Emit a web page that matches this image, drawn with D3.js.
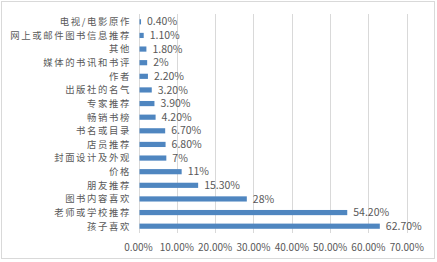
<!DOCTYPE html>
<html>
<head>
<meta charset="utf-8">
<script src="https://cdn.jsdelivr.net/npm/d3@7"></script>
<style>
  body { margin: 0; background: #fff; }
  svg text { font-family: "Noto Sans CJK SC", "DejaVu Sans", sans-serif; fill: #595959; }
</style>
</head>
<body>
<svg id="chart" width="437" height="262"></svg>
<script>
// data, top to bottom as drawn
const categories = [
  "电视/电影原作", "网上或邮件图书信息推荐", "其他", "媒体的书讯和书评", "作者",
  "出版社的名气", "专家推荐", "畅销书榜", "书名或目录", "店员推荐",
  "封面设计及外观", "价格", "朋友推荐", "图书内容喜欢", "老师或学校推荐", "孩子喜欢"
];
const values = [0.4, 1.1, 1.8, 2, 2.2, 3.2, 3.9, 4.2, 6.7, 6.8, 7, 11, 15.3, 28, 54.2, 62.7];
const valueLabels = ["0.40%", "1.10%", "1.80%", "2%", "2.20%", "3.20%", "3.90%", "4.20%",
  "6.70%", "6.80%", "7%", "11%", "15.30%", "28%", "54.20%", "62.70%"];
const ticks = [0, 10, 20, 30, 40, 50, 60, 70];

const svg = d3.select("#chart");
const margin = { left: 138.5, right: 30, top: 15, bottom: 29 };
const W = 437, H = 262;

// outer frame
svg.append("rect")
  .attr("x", 1.5).attr("y", 1.5).attr("width", W - 4).attr("height", H - 5)
  .attr("fill", "#fff").attr("stroke", "#d9d9d9").attr("stroke-width", 1);

const x = d3.scaleLinear().domain([0, 70]).range([margin.left, margin.left + 268.3]);
const y = d3.scaleBand().domain(categories).range([margin.top, H - margin.bottom]).paddingInner(0.62).paddingOuter(0.31);

// gridlines
svg.append("g").selectAll("line").data(ticks.slice(1)).join("line")
  .attr("x1", d => Math.round(x(d)) + 0.5).attr("x2", d => Math.round(x(d)) + 0.5)
  .attr("y1", margin.top - 1).attr("y2", H - margin.bottom)
  .attr("stroke", "#d9d9d9").attr("stroke-width", 1);

// y axis line
svg.append("line")
  .attr("x1", Math.round(x(0)) + 0.5).attr("x2", Math.round(x(0)) + 0.5)
  .attr("y1", margin.top - 1).attr("y2", H - margin.bottom)
  .attr("stroke", "#d9d9d9");

// bars
svg.append("g").selectAll("rect").data(values).join("rect")
  .attr("x", x(0) + 1)
  .attr("y", (d, i) => y(categories[i]))
  .attr("width", d => Math.max(1, x(d) - x(0)))
  .attr("height", y.bandwidth())
  .attr("fill", "#4f86c0");

// value labels
svg.append("g").selectAll("text").data(values).join("text")
  .attr("x", d => x(d) + 7)
  .attr("y", (d, i) => y(categories[i]) + y.bandwidth() / 2)
  .attr("dy", "0.35em")
  .attr("font-size", 10.5)
  .text((d, i) => valueLabels[i]);

// category labels
svg.append("g").selectAll("text").data(categories).join("text")
  .attr("x", 131)
  .attr("y", d => y(d) + y.bandwidth() / 2)
  .attr("dy", "0.36em")
  .attr("text-anchor", "end")
  .attr("font-size", 9.4)
  .attr("letter-spacing", 1.6)
  .text(d => d);

// x tick labels
svg.append("g").selectAll("text").data(ticks).join("text")
  .attr("x", d => x(d))
  .attr("y", 247)
  .attr("dy", "0.35em")
  .attr("text-anchor", "middle")
  .attr("font-size", 10)
  .text(d => d.toFixed(2) + "%");
</script>
</body>
</html>
